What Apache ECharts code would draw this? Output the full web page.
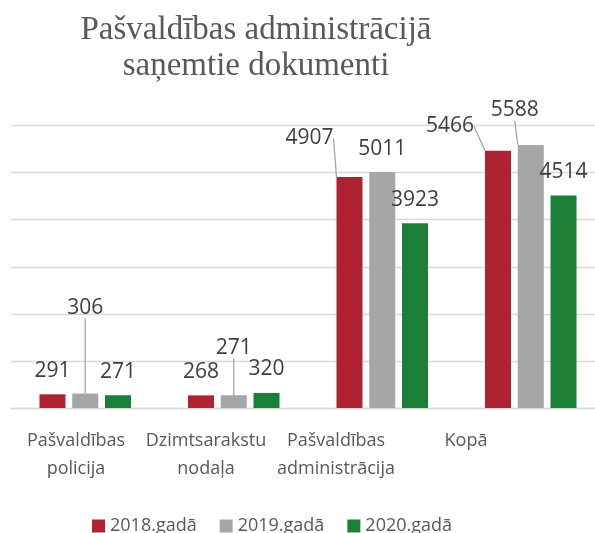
<!DOCTYPE html>
<html>
<head>
<meta charset="utf-8">
<script src="https://cdn.jsdelivr.net/npm/echarts@6/dist/echarts.min.js"></script>
<style>
  html, body { margin: 0; padding: 0; background: #fff; }
  #chart { width: 595px; height: 533px; }
</style>
</head>
<body>
<div id="chart"></div>
<script>
// dati
const categories = ["Pašvaldības\npolicija", "Dzimtsarakstu\nnodaļa", "Pašvaldības\nadministrācija", "Kopā"];
const seriesNames = ["2018.gadā", "2019.gadā", "2020.gadā"];
const values2018 = [291, 268, 4907, 5466];
const values2019 = [306, 271, 5011, 5588];
const values2020 = [271, 320, 3923, 4514];
const colors = ["#ae2232", "#a6a6a6", "#1b7f37"];

// etiķetes, kas pārvietotas (sērija-indekss: [dx, dy])
const labelShift = {
  "1-0": [0, -62],
  "1-1": [0, -24],
  "0-2": [-40, -15],
  "0-3": [-48, -1],
  "1-3": [-16, -11]
};

const chart = echarts.init(document.getElementById("chart"));

function makeSeries(name, vals, idx) {
  return {
    name: name,
    type: "bar",
    xAxisIndex: 0,
    yAxisIndex: 0,
    barWidth: 26,
    barGap: "26%",
    itemStyle: { color: colors[idx] },
    label: {
      show: true,
      position: "top",
      distance: 13,
      color: "#404040",
      fontSize: 21,
      fontFamily: "Open Sans"
    },
    labelLine: { show: false, lineStyle: { color: "#a6a6a6", width: 1.3 } },
    labelLayout: function (p) {
      const s = labelShift[p.seriesIndex + "-" + p.dataIndex];
      return s ? { dx: s[0], dy: s[1] } : {};
    },
    data: vals.map(function (v, i) {
      return labelShift[idx + "-" + i] ? { value: v, labelLine: { show: true } } : v;
    })
  };
}

chart.setOption({
  animation: false,
  title: {
    text: "Pašvaldības administrācijā\nsaņemtie dokumenti",
    left: 251,
    top: 7,
    textAlign: "center",
    textStyle: {
      fontFamily: "Liberation Serif",
      fontSize: 33,
      fontWeight: "normal",
      lineHeight: 36,
      color: "#595959"
    }
  },
  legend: {
    data: seriesNames,
    left: 87,
    top: 512,
    icon: "rect",
    itemWidth: 13,
    itemHeight: 13,
    itemGap: 23,
    textStyle: { fontFamily: "Open Sans", fontSize: 18, color: "#595959" }
  },
  grid: [
    { left: 11, right: -10, top: 125.5, bottom: 125, outerBoundsMode: "none", containLabel: false },
    { left: 11, width: 520, top: 125.5, bottom: 125, outerBoundsMode: "none", containLabel: false }
  ],
  xAxis: [
    {
      type: "category",
      gridIndex: 0,
      data: categories,
      axisLine: { show: true, lineStyle: { color: "#d9d9d9", width: 1.3 } },
      axisTick: { show: false },
      axisLabel: { show: false }
    },
    {
      type: "category",
      gridIndex: 1,
      data: categories,
      axisLine: { show: false },
      axisTick: { show: false },
      axisLabel: {
        margin: 19,
        fontFamily: "Open Sans",
        fontSize: 18,
        lineHeight: 28,
        color: "#595959",
        interval: 0
      }
    }
  ],
  yAxis: [
    {
      type: "value",
      gridIndex: 0,
      min: 0,
      max: 6000,
      interval: 1000,
      axisLabel: { show: false },
      axisLine: { show: false },
      axisTick: { show: false },
      splitLine: { lineStyle: { color: "#d9d9d9", width: 1.3 } }
    },
    {
      type: "value",
      gridIndex: 1,
      min: 0,
      max: 6000,
      show: false
    }
  ],
  series: [
    makeSeries(seriesNames[0], values2018, 0),
    makeSeries(seriesNames[1], values2019, 1),
    makeSeries(seriesNames[2], values2020, 2)
  ]
});
</script>
</body>
</html>
